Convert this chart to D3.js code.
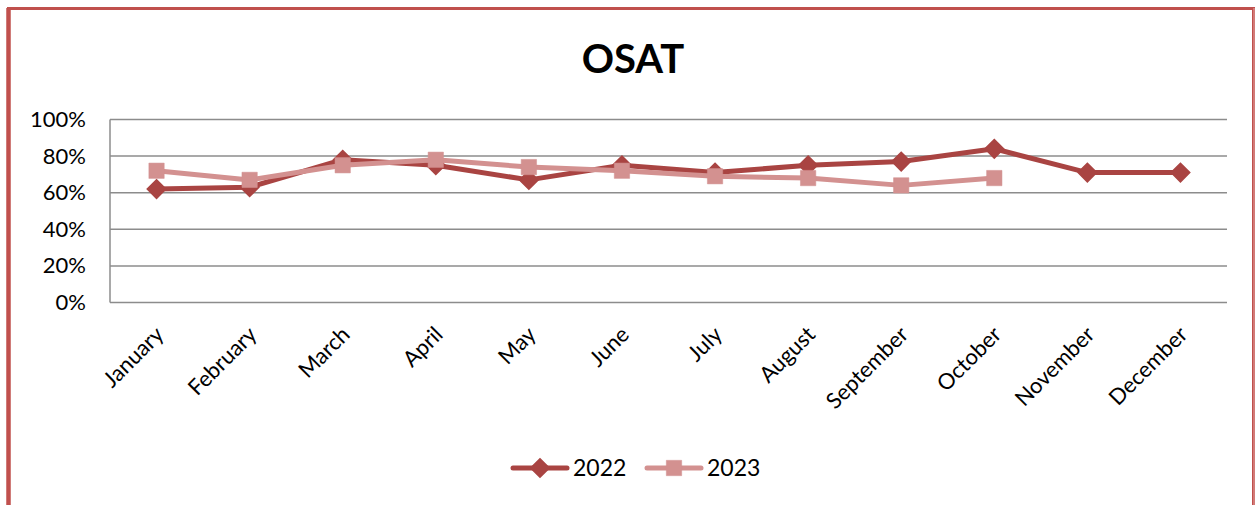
<!DOCTYPE html>
<html>
<head>
<meta charset="utf-8">
<script src="https://cdn.jsdelivr.net/npm/d3@7"></script>
<style>
  body { margin: 0; background: #fff; }
  svg { display: block; font-family: Lato, "Open Sans", sans-serif; }
</style>
</head>
<body>
<div id="chart"></div>
<script>
var months = ["January", "February", "March", "April", "May", "June",
              "July", "August", "September", "October", "November", "December"];
var values2022 = [62, 63, 78, 75, 67, 75, 71, 75, 77, 84, 71, 71];
var values2023 = [72, 67, 75, 78, 74, 72, 69, 68, 64, 68];
var yTicks = [0, 20, 40, 60, 80, 100];

var width = 1255;
var height = 505;
var plot = {left: 110, right: 1227, top: 119.5, bottom: 302.5};

var c2022 = "#a94442";
var c2023 = "#d39190";

var svg = d3.select("#chart").append("svg")
  .attr("width", width)
  .attr("height", height);

/* outer frame */
svg.append("rect")
  .attr("x", 8.5).attr("y", 8.5)
  .attr("width", 1245).attr("height", 520)
  .attr("fill", "#fff")
  .attr("stroke", "#c0504d")
  .attr("stroke-width", 3);
svg.append("line")
  .attr("x1", 1254).attr("x2", 1254).attr("y1", 8).attr("y2", 505)
  .attr("stroke", "#d98a87").attr("stroke-width", 1.5);
svg.append("line")
  .attr("x1", 8.5).attr("x2", 8.5).attr("y1", 8).attr("y2", 505)
  .attr("stroke", "#c0504d").attr("stroke-width", 4.5);

svg.append("text")
  .attr("x", 633).attr("y", 73)
  .attr("text-anchor", "middle")
  .attr("font-size", 40).attr("font-weight", "bold")
  .text("OSAT");

/* Scale */
var xScale = d3.scaleBand()
  .domain(months)
  .range([plot.left, plot.right]);

var yScale = d3.scaleLinear()
  .domain([0, 100])
  .range([plot.bottom, plot.top]);

var cx = d => xScale(d) + xScale.bandwidth() / 2;

/* grid */
svg.append("g")
  .selectAll("line")
  .data(yTicks).enter()
  .append("line")
  .attr("x1", plot.left).attr("x2", plot.right)
  .attr("y1", d => yScale(d)).attr("y2", d => yScale(d))
  .attr("stroke", "#8c8c8c")
  .attr("stroke-width", 1.5);

svg.append("line")
  .attr("x1", plot.left).attr("x2", plot.left)
  .attr("y1", plot.top).attr("y2", plot.bottom)
  .attr("stroke", "#8c8c8c").attr("stroke-width", 1.5);

/* y axis labels */
var yAxis = d3.axisLeft(yScale).tickValues(yTicks).tickSize(0).tickPadding(24)
  .tickFormat(d => d + "%");
svg.append("g")
  .attr("transform", `translate(${plot.left}, 0)`)
  .call(yAxis)
  .call(g => g.select(".domain").remove())
  .selectAll("text")
  .attr("font-family", "Lato, 'Open Sans', sans-serif")
  .attr("font-size", 22)
  .attr("fill", "#000");

/* x axis labels */
var xAxis = d3.axisBottom(xScale).tickSize(0).tickPadding(0);
svg.append("g")
  .attr("transform", `translate(0, ${plot.bottom})`)
  .call(xAxis)
  .call(g => g.select(".domain").remove())
  .selectAll("text")
  .attr("font-family", "Lato, 'Open Sans', sans-serif")
  .attr("font-size", 22)
  .attr("fill", "#000")
  .attr("text-anchor", "end")
  .attr("dy", "0.35em")
  .attr("transform", "translate(3, 28) rotate(-45)");

/* lines */
var data = [
  {name: "2022", values: values2022, color: c2022, marker: "diamond"},
  {name: "2023", values: values2023, color: c2023, marker: "square"}
];

var line = d3.line()
  .x((d, i) => cx(months[i]))
  .y(d => yScale(d));

var diamond = d3.symbol().type(d3.symbolDiamond2).size(220);
var square = d3.symbol().type(d3.symbolSquare2).size(300);

data.forEach(function(s) {
  var g = svg.append("g");
  g.append("path")
    .attr("d", line(s.values))
    .attr("fill", "none")
    .attr("stroke", s.color)
    .attr("stroke-width", 5)
    .attr("stroke-linejoin", "round");
  g.selectAll("path.pt")
    .data(s.values).enter()
    .append("path")
    .attr("class", "pt")
    .attr("transform", (d, i) => `translate(${cx(months[i])}, ${yScale(d)})`)
    .attr("d", s.marker === "diamond" ? diamond() : square())
    .attr("fill", s.color)
    .attr("stroke", s.color)
    .attr("stroke-width", s.marker === "diamond" ? 1.5 : 0.5);
});

/* legend */
var legend = svg.append("g");
var legendX = [513, 647];
data.forEach(function(s, i) {
  var x0 = legendX[i];
  legend.append("line")
    .attr("x1", x0).attr("x2", x0 + 54)
    .attr("y1", 468).attr("y2", 468)
    .attr("stroke", s.color).attr("stroke-width", 5)
    .attr("stroke-linecap", "round");
  legend.append("path")
    .attr("transform", `translate(${x0 + 27}, 468)`)
    .attr("d", s.marker === "diamond" ? diamond() : square())
    .attr("fill", s.color)
    .attr("stroke", s.color)
    .attr("stroke-width", s.marker === "diamond" ? 1.5 : 0.5);
  legend.append("text")
    .attr("x", x0 + 60).attr("y", 468)
    .attr("dy", "0.35em")
    .attr("font-size", 23)
    .text(s.name);
});
</script>
</body>
</html>
